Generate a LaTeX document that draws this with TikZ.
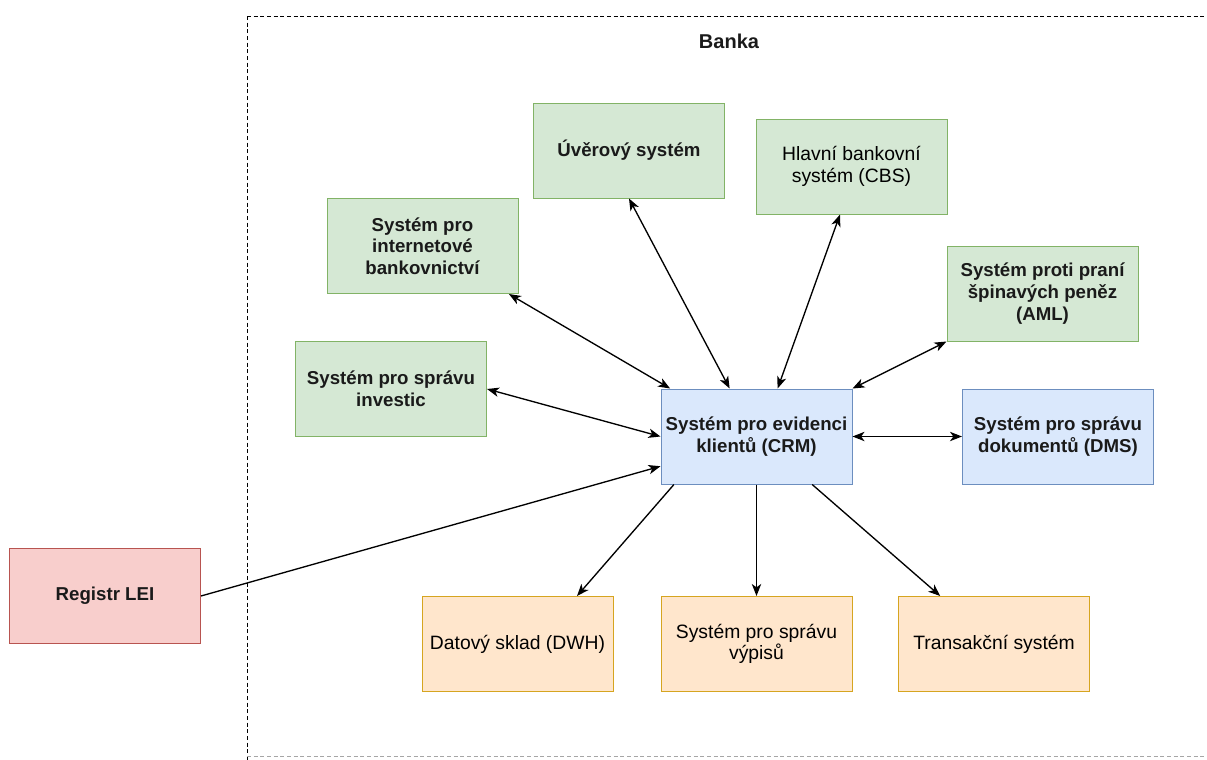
\documentclass[tikz,border=0pt]{standalone}
\usepackage{fontspec}
\setmainfont{Liberation Sans}
\usetikzlibrary{arrows.meta,calc}

\definecolor{greenfill}{HTML}{D5E8D4}
\definecolor{greenline}{HTML}{82B366}
\definecolor{bluefill}{HTML}{DAE8FC}
\definecolor{blueline}{HTML}{6C8EBF}
\definecolor{orangefill}{HTML}{FFE6CC}
\definecolor{orangeline}{HTML}{D6A520}
\definecolor{redfill}{HTML}{F8CECC}
\definecolor{redline}{HTML}{B85450}
\definecolor{textcol}{HTML}{1A1A1A}

\begin{document}
\begin{tikzpicture}[
  x=0.75pt, y=-0.75pt,
  box/.style={rectangle, minimum width=143.25pt, minimum height=71.25pt,
    inner sep=0pt, align=center, line width=0.75pt, text=textcol,
    font=\fontsize{14}{16.3}\selectfont\bfseries},
  lightbox/.style={box, text=black, font=\fontsize{14.5}{16.3}\selectfont},
  greenbox/.style={fill=greenfill, draw=greenline},
  bluebox/.style={fill=bluefill, draw=blueline},
  orangebox/.style={fill=orangefill, draw=orangeline},
  redbox/.style={fill=redfill, draw=redline},
  tip/.style={},
  conn/.style={line width=1pt, draw=black,
    arrows={-Stealth[length=9pt,width=7pt,inset=2.5pt]}},
  biconn/.style={conn,
    arrows={Stealth[length=9pt,width=7pt,inset=2.5pt]-Stealth[length=9pt,width=7pt,inset=2.5pt]}},
  frame/.style={line width=0.75pt, dash pattern=on 3pt off 2pt}
]
\useasboundingbox (0,0) rectangle (1207,760);
\clip (0,0) rectangle (1207,760);

% boundary of the bank
\draw[frame] (247,16) -- (1215,16);
\draw[frame] (247,16) -- (247,770);
\draw[frame, draw=black!35] (247,756) -- (1215,756);
\node[font=\fontsize{15}{18}\selectfont\bfseries, text=textcol] (banka) at (729,41) {Banka};

% systems
\node[box, greenbox] (uver) at (629,150.5) {Úvěrový systém};
\node[lightbox, greenbox] (cbs) at (851.5,166.5) {Hlavní bankovní\\systém (CBS)};
\node[box, greenbox] (inet) at (422.5,246) {Systém pro\\internetové\\bankovnictví};
\node[box, greenbox] (aml) at (1042.5,293.5) {Systém proti praní\\špinavých peněz\\(AML)};
\node[box, greenbox] (inv) at (391,389) {Systém pro správu\\investic};
\node[box, bluebox] (crm) at (756.5,436.5) {Systém pro evidenci\\klientů (CRM)};
\node[box, bluebox] (dms) at (1058,436.5) {Systém pro správu\\dokumentů (DMS)};
\node[box, redbox] (lei) at (105,596) {Registr LEI};
\node[lightbox, orangebox] (dwh) at (517.5,644) {Datový sklad (DWH)};
\node[lightbox, orangebox] (vyp) at (756.5,644) {Systém pro správu\\výpisů};
\node[lightbox, orangebox] (tran) at (994,644) {Transakční systém};

% connections
\draw[biconn] (uver.south) -- ($(crm.north west)!0.36!(crm.north east)$);
\draw[biconn] ($(cbs.south west)!0.44!(cbs.south east)$) -- ($(crm.north west)!0.61!(crm.north east)$);
\draw[biconn] ($(inet.south west)!0.95!(inet.south east)$) -- ($(crm.north west)!0.05!(crm.north east)$);
\draw[biconn] (aml.south west) -- (crm.north east);
\draw[biconn] (inv.east) -- (crm.west);
\draw[biconn] (crm.east) -- (dms.west);
\draw[conn] (lei.east) -- ($(crm.north west)!0.81!(crm.south west)$);
\draw[conn] ($(crm.south west)!0.07!(crm.south east)$) -- ($(dwh.north west)!0.81!(dwh.north east)$);
\draw[conn] (crm.south) -- (vyp.north);
\draw[conn] ($(crm.south west)!0.79!(crm.south east)$) -- ($(tran.north west)!0.22!(tran.north east)$);
\end{tikzpicture}
\end{document}
